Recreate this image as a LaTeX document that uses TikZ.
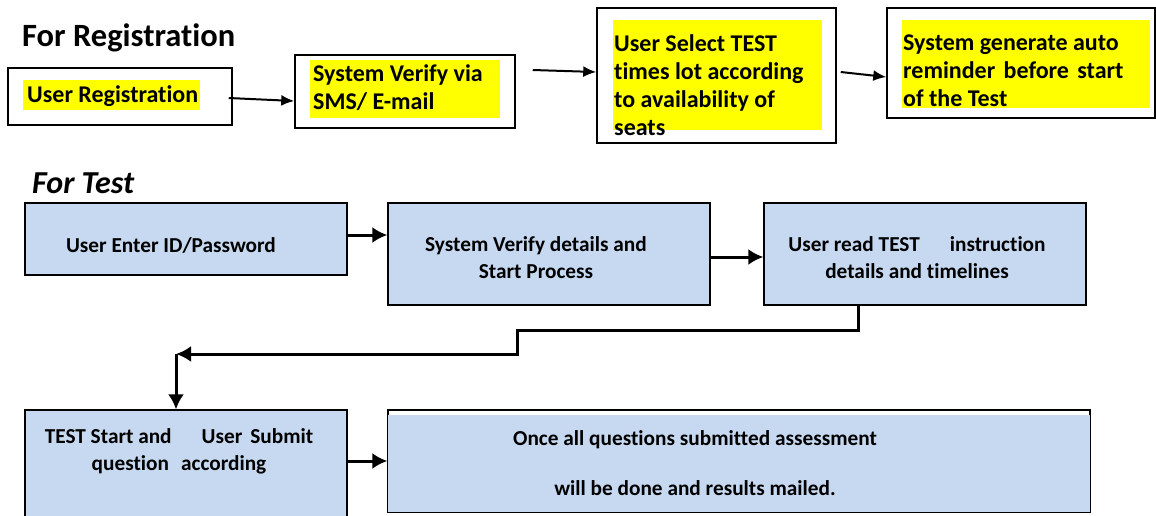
\documentclass[tikz,border=0pt]{standalone}
\usepackage{fontspec}
\setmainfont[Ligatures=NoCommon]{Carlito}
\usetikzlibrary{arrows.meta,positioning}
\definecolor{testblue}{HTML}{C6D9F1}
\definecolor{hilite}{HTML}{FFFF00}

\begin{document}
\begin{tikzpicture}[x=1pt,y=-1pt]
\tikzstyle{every node}=[font=\bfseries]
\tikzstyle{regbox}=[draw, line width=1.5pt, fill=white, inner sep=0]
\tikzstyle{testbox}=[draw, line width=1.2pt, fill=testblue, inner sep=0]
\tikzstyle{regtext}=[font=\fontsize{24}{28}\selectfont\bfseries, align=left, inner sep=0, anchor=west]
\tikzstyle{testtext}=[font=\fontsize{21.3}{27}\selectfont\bfseries, align=center, inner sep=0]
\tikzstyle{regarrow}=[line width=2pt, ->, > = {Latex[length=13pt,width=11pt]}]
\tikzstyle{testarrow}=[line width=3pt, ->, > = {Latex[length=15pt,width=16pt]}]
\clip (0,0) rectangle (1156,515);
% registration flow
\node[anchor=west, inner sep=0, font=\fontsize{32.5}{36}\selectfont\bfseries] (regtitle) at (22,38) {For Registration};
\node[regbox, minimum width=224pt, minimum height=57pt] (reg1) at (120,96.5) {};
\node[regbox, minimum width=220pt, minimum height=73pt] (reg2) at (405,91.5) {};
\node[regbox, minimum width=239pt, minimum height=135pt] (reg3) at (716.5,75.5) {};
\node[regbox, minimum width=268pt, minimum height=110pt] (reg4) at (1021,63) {};
\fill[hilite] (23,80) rectangle (200,110);
\fill[hilite] (310,60) rectangle (500,118);
\fill[hilite] (613,20) rectangle (822,130);
\fill[hilite] (902,20) rectangle (1150,108);
\node[regtext] (reg1txt) at (27,96) {User Registration};
\node[regtext] (reg2txt) at (313,88) {System Verify via\\SMS/ E-mail};
\node[regtext] (reg3txt) at (614,85) {User Select TEST\\times lot according\\to availability of\\seats};
\node[regtext] (reg4txt) at (903,71) {System generate auto\\reminder\hspace{3pt} before\hspace{3pt} start\\of the Test};
\draw[regarrow] ([xshift=-4pt,yshift=-1.5pt]reg1.east) -- ([yshift=-9.5pt]reg2.west);
\draw[regarrow] ([xshift=17pt,yshift=21.5pt]reg2.east) -- ([yshift=3.5pt]reg3.west);
\draw[regarrow] ([xshift=4pt,yshift=3.5pt]reg3.east) -- ([yshift=-14pt]reg4.west);
% test flow
\node[anchor=west, inner sep=0, font=\fontsize{32}{36}\selectfont\bfseries\itshape] (testtitle) at (32,183) {For Test};
\node[testbox, minimum width=322pt, minimum height=72pt] (t1) at (186,239) {};
\node[testbox, minimum width=322pt, minimum height=102pt] (t2) at (549,254) {};
\node[testbox, minimum width=322pt, minimum height=102pt] (t3) at (925,254) {};
\node[testbox, minimum width=322pt, minimum height=112pt] (t4) at (186,466) {};
\node[draw, line width=1.2pt, fill=white, minimum width=702pt, minimum height=102pt] (t5) at (739,461) {};
\fill[testblue] ([xshift=1pt,yshift=-6pt]t5.north west) rectangle ([xshift=-1pt,yshift=1pt]t5.south east);
\node[testtext] (t1txt) at (171,246) {User Enter ID/Password};
\node[testtext] (t2txt) at (536,258) {System Verify details and\\Start Process};
\node[testtext] (t3txt) at (917,258) {User read TEST\hspace{30pt}instruction\\details and timelines};
\node[testtext] (t4txt) at (179,451) {TEST Start and\hspace{30pt}User\hspace{8pt}Submit\\question\hspace{12pt}according};
\node[testtext] (t5txt) at (695,463) {Once all questions submitted assessment\\[23pt]will be done and results mailed.};
\coordinate (a1) at ([yshift=4pt]t1.east);
\draw[testarrow] (a1) -- (a1 -| t2.west);
\coordinate (a2) at ([yshift=-3pt]t2.east);
\draw[testarrow] (a2) -- (a2 -| t3.west);
\draw[testarrow] (t5.west -| t4.east) -- (t5.west);
% elbow back to the start of the test
\coordinate (drop) at ([xshift=-67pt]t3.south);
\coordinate (bend) at (176,354);
\draw[testarrow] (drop) -- ++(0,25) -| (517,354) -- (bend);
\draw[testarrow] (bend) -- (bend |- t4.north);
\end{tikzpicture}
\end{document}
